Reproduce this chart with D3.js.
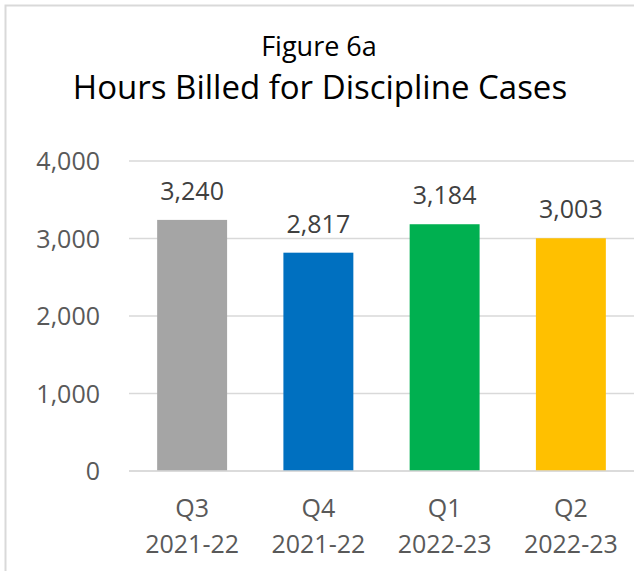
<!DOCTYPE html>
<html>
<head>
<meta charset="utf-8">
<script src="https://cdn.jsdelivr.net/npm/d3@7"></script>
<style>
  body { margin: 0; background: #fff; }
  svg { display: block; font-family: "Open Sans", sans-serif; }
</style>
</head>
<body>
<svg id="chart" width="634" height="571"></svg>
<script>
var quarters = ["Q3", "Q4", "Q1", "Q2"]
var years = ["2021-22", "2021-22", "2022-23", "2022-23"]
var hours = [3240, 2817, 3184, 3003]
var barColors = ["#a5a5a5", "#0070c0", "#00b050", "#ffc000"]
var yTicks = [0, 1000, 2000, 3000, 4000]

var svg = d3.select("#chart")
var fmt = d3.format(",")

// chart frame (only left and top edges show in the crop)
svg.append("path")
    .attr("d", "M5.5,571V5.5H634")
    .attr("fill", "none")
    .attr("stroke", "#d9d9d9")
    .attr("stroke-width", 2)

svg.append("text")
    .attr("x", 319).attr("y", 56)
    .attr("text-anchor", "middle")
    .attr("font-size", 27)
    .attr("fill", "#000")
    .text("Figure 6a")

svg.append("text")
    .attr("x", 320).attr("y", 99)
    .attr("text-anchor", "middle")
    .attr("font-size", 33)
    .attr("fill", "#000")
    .text("Hours Billed for Discipline Cases")

var y = d3.scaleLinear().domain([0, 4000]).range([471, 161])
var x = d3.scaleBand().domain(d3.range(hours.length))
    .range([129, 634]).paddingInner(0.446).paddingOuter(0.223)

// gridlines
svg.append("g").selectAll("line").data(yTicks).join("line")
    .attr("x1", 129).attr("x2", 634)
    .attr("y1", function(d) { return y(d) }).attr("y2", function(d) { return y(d) })
    .attr("stroke", "#d9d9d9")
    .attr("stroke-width", 1.5)

svg.append("g").selectAll("text").data(yTicks).join("text")
    .attr("x", 100)
    .attr("y", function(d) { return y(d) + 9 })
    .attr("text-anchor", "end")
    .attr("font-size", 25)
    .attr("fill", "#595959")
    .text(function(d) { return fmt(d) })

svg.append("g").selectAll("rect").data(hours).join("rect")
    .attr("x", function(d, i) { return x(i) })
    .attr("y", function(d) { return y(d) })
    .attr("width", x.bandwidth())
    .attr("height", function(d) { return y(0) - y(d) })
    .attr("fill", function(d, i) { return barColors[i] })

// redraw baseline over bars
svg.append("line")
    .attr("x1", 129).attr("x2", 634)
    .attr("y1", y(0)).attr("y2", y(0))
    .attr("stroke", "#d9d9d9")
    .attr("stroke-width", 1.5)

svg.append("g").selectAll("text").data(hours).join("text")
    .attr("x", function(d, i) { return x(i) + x.bandwidth() / 2 })
    .attr("y", function(d) { return y(d) - 20 })
    .attr("text-anchor", "middle")
    .attr("font-size", 25)
    .attr("fill", "#404040")
    .text(function(d) { return fmt(d) })

var cat = svg.append("g").selectAll("text").data(quarters).join("text")
    .attr("text-anchor", "middle")
    .attr("font-size", 25)
    .attr("fill", "#595959")
cat.append("tspan")
    .attr("x", function(d, i) { return x(i) + x.bandwidth() / 2 })
    .attr("y", 517)
    .text(function(d) { return d })
cat.append("tspan")
    .attr("x", function(d, i) { return x(i) + x.bandwidth() / 2 })
    .attr("y", 553)
    .text(function(d, i) { return years[i] })
</script>
</body>
</html>
